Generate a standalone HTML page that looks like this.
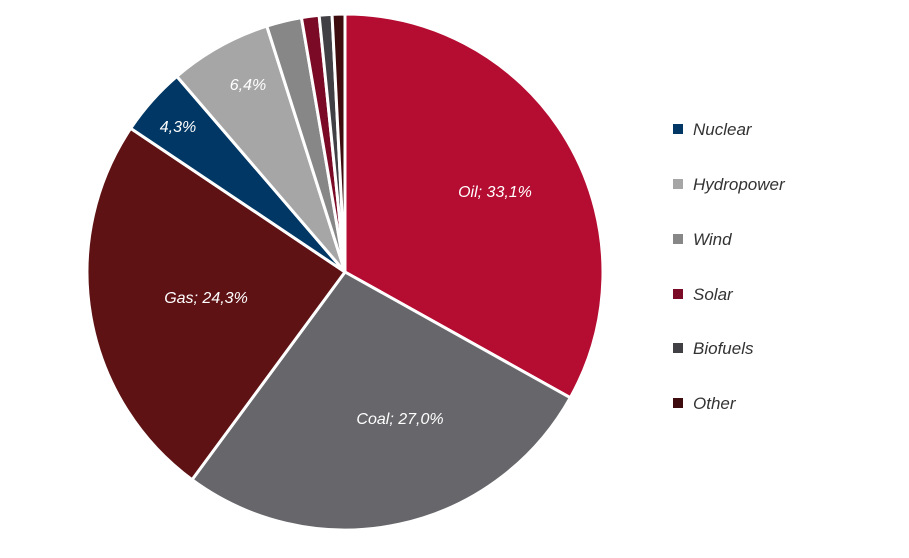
<!DOCTYPE html>
<html><head><meta charset="utf-8"><style>
body{margin:0;background:#fff;width:909px;height:558px;overflow:hidden}
svg{display:block}
text{font-family:"Liberation Sans",sans-serif;font-style:italic}
</style></head><body>
<svg id="s" width="909" height="558" xmlns="http://www.w3.org/2000/svg">
<g id="pie"></g>
<g font-size="16" fill="#fff" text-anchor="middle">
<text x="495" y="197">Oil; 33,1%</text>
<text x="400" y="424">Coal; 27,0%</text>
<text x="206" y="303">Gas; 24,3%</text>
<text x="178" y="132">4,3%</text>
<text x="248" y="90">6,4%</text>
</g>
<g font-size="17" fill="#333">
<rect x="673" y="124" width="10" height="10" fill="#003764"/><text x="693" y="135">Nuclear</text>
<rect x="673" y="179" width="10" height="10" fill="#a6a6a6"/><text x="693" y="190">Hydropower</text>
<rect x="673" y="234" width="10" height="10" fill="#878787"/><text x="693" y="245">Wind</text>
<rect x="673" y="289" width="10" height="10" fill="#7a0a25"/><text x="693" y="300">Solar</text>
<rect x="673" y="343" width="10" height="10" fill="#404045"/><text x="693" y="354">Biofuels</text>
<rect x="673" y="398" width="10" height="10" fill="#3e0b0e"/><text x="693" y="409">Other</text>
</g>
</svg>
<script>
var d=[[33.1,"#b50c31"],[27.0,"#67666b"],[24.3,"#5e1214"],[4.3,"#003764"],[6.4,"#a6a6a6"],[2.2,"#878787"],[1.1,"#7a0a25"],[0.8,"#404045"],[0.8,"#3e0b0e"]];
var cx=345,cy=272,r=258,a=0,h="";
d.forEach(function(x){var a0=a,a1=a+x[0]/100*2*Math.PI;a=a1;
var x0=cx+r*Math.sin(a0),y0=cy-r*Math.cos(a0),x1=cx+r*Math.sin(a1),y1=cy-r*Math.cos(a1);
h+='<path d="M'+cx+' '+cy+'L'+x0+' '+y0+'A'+r+' '+r+' 0 '+((a1-a0)>Math.PI?1:0)+' 1 '+x1+' '+y1+'Z" fill="'+x[1]+'" stroke="#fff" stroke-width="3" stroke-linejoin="round"/>';});
document.getElementById("pie").innerHTML=h;
</script>
</body></html>
